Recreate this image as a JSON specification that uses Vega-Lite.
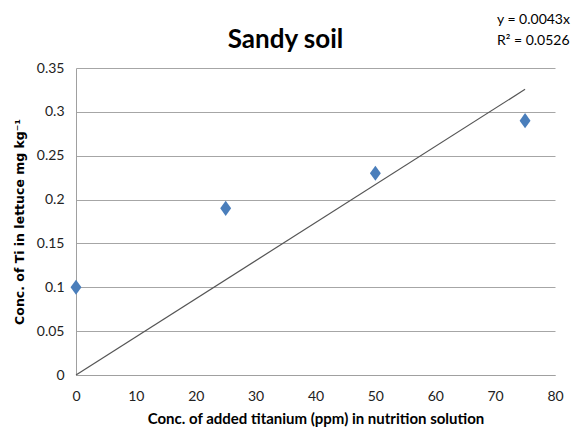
{
  "$schema": "https://vega.github.io/schema/vega-lite/v6.json",
  "width": 479,
  "height": 307,
  "autosize": {"type": "none"},
  "padding": {"left": 76, "top": 68, "right": 16, "bottom": 60},
  "background": "white",
  "config": {
    "view": {"stroke": null},
    "axis": {
      "labelFont": "Lato",
      "labelFontSize": 14,
      "labelColor": "#222222",
      "titleColor": "#000000",
      "domainColor": "#a0a0a0",
      "gridColor": "#a6a6a6",
      "ticks": false,
      "labelFlush": false
    }
  },
  "title": {
    "text": "Sandy soil",
    "font": "Lato",
    "fontSize": 26,
    "fontWeight": "bold",
    "color": "#000000",
    "anchor": "middle",
    "baseline": "bottom",
    "offset": -66,
    "dx": -30
  },
  "datasets": {
    "points": [
      {"ti_added": 0, "ti_lettuce": 0.1},
      {"ti_added": 25, "ti_lettuce": 0.19},
      {"ti_added": 50, "ti_lettuce": 0.23},
      {"ti_added": 75, "ti_lettuce": 0.29}
    ],
    "trend": [
      {"ti_added": 0, "ti_lettuce": 0},
      {"ti_added": 75, "ti_lettuce": 0.3257}
    ]
  },
  "layer": [
    {
      "data": {"name": "trend"},
      "mark": {"type": "line", "color": "#555555", "strokeWidth": 1.2},
      "encoding": {
        "x": {
          "field": "ti_added",
          "type": "quantitative",
          "scale": {"domain": [0, 80], "nice": false},
          "axis": {
            "values": [0, 10, 20, 30, 40, 50, 60, 70, 80],
            "grid": false,
            "labelPadding": 14,
            "title": "Conc. of added titanium (ppm) in nutrition solution",
            "titleFont": "Lato",
            "titleFontSize": 15,
            "titleFontWeight": "bold",
            "titlePadding": 8
          }
        },
        "y": {
          "field": "ti_lettuce",
          "type": "quantitative",
          "scale": {"domain": [0, 0.35], "nice": false},
          "axis": {
            "values": [0, 0.05, 0.1, 0.15, 0.2, 0.25, 0.3, 0.35],
            "format": "~g",
            "labelPadding": 12,
            "title": "Conc. of Ti in lettuce  mg kg⁻¹",
            "titleFont": "DejaVu Sans",
            "titleFontSize": 12.5,
            "titleFontWeight": "bold",
            "titlePadding": 10
          }
        }
      }
    },
    {
      "data": {"name": "points"},
      "mark": {
        "type": "point",
        "shape": "M0,-1L0.72,0L0,1L-0.72,0Z",
        "filled": true,
        "opacity": 1,
        "size": 230,
        "color": "#4A7EBB"
      },
      "encoding": {
        "x": {"field": "ti_added", "type": "quantitative"},
        "y": {"field": "ti_lettuce", "type": "quantitative"}
      }
    },
    {
      "data": {"values": [{"label": "y = 0.0043x"}]},
      "mark": {"type": "text", "align": "left", "baseline": "middle", "font": "Lato", "fontSize": 14, "color": "#000000"},
      "encoding": {
        "x": {"datum": 70.3},
        "y": {"datum": 0.4047},
        "text": {"field": "label"}
      }
    },
    {
      "data": {"values": [{"label": "R² = 0.0526"}]},
      "mark": {"type": "text", "align": "left", "baseline": "middle", "font": "Lato", "fontSize": 14, "color": "#000000"},
      "encoding": {
        "x": {"datum": 70.3},
        "y": {"datum": 0.3808},
        "text": {"field": "label"}
      }
    }
  ]
}
